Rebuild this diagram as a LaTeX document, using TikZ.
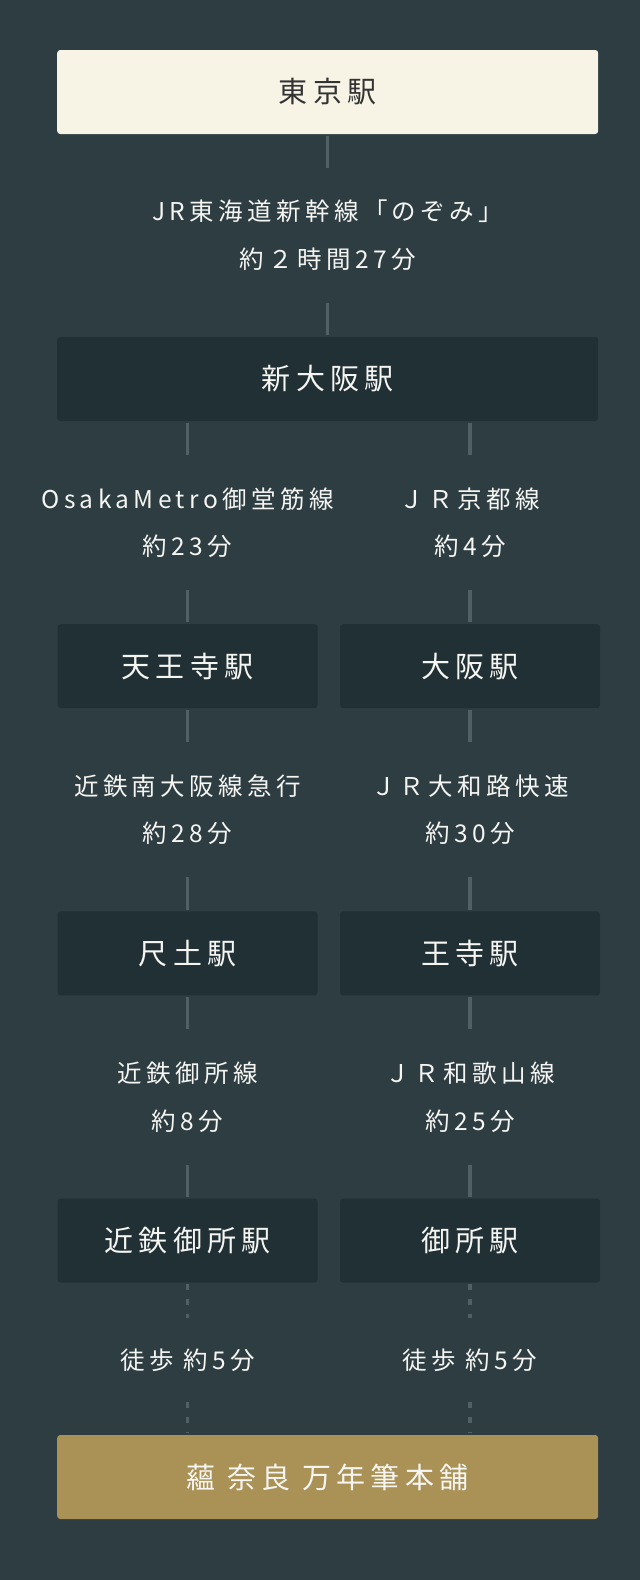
\documentclass[tikz,border=0pt]{standalone}
\usepackage{fontspec}
\setmainfont{Noto Sans CJK JP}[LetterSpace=18]
\usepackage{tikz}
\usetikzlibrary{positioning}

\definecolor{bgcol}{RGB}{45,61,66}
\definecolor{boxcol}{RGB}{33,48,53}
\definecolor{startcol}{RGB}{247,244,230}
\definecolor{goalcol}{RGB}{170,145,86}
\definecolor{linkcol}{RGB}{80,96,101}
\definecolor{textcol}{RGB}{245,245,242}

\begin{document}
\begin{tikzpicture}[x=1pt,y=-1pt,line width=3.5pt,draw=linkcol]
    \tikzstyle{station}=[rectangle,rounded corners=3pt,fill=boxcol,text=textcol,minimum height=84pt,inner sep=0pt,font=\fontsize{29}{33}\selectfont]
    \tikzstyle{wide station}=[station,minimum width=541pt]
    \tikzstyle{half station}=[station,minimum width=260pt]
    \tikzstyle{route}=[align=center,text=textcol,minimum height=132pt,inner sep=0pt,font=\fontsize{24.5}{47.5}\selectfont]
    \tikzstyle{walk}=[route,minimum height=80pt]
    \tikzstyle{walk link}=[dash pattern=on 6pt off 9pt]

    % Background
    \useasboundingbox (0,0) rectangle (640,1580);
    \fill[bgcol] (0,0) rectangle (640,1580);

    % Draw the stations on the main line
    \node[wide station, fill=startcol, text=black!80] (Tokyo) at (327.7,92) {東京駅};
    \node[wide station] (ShinOsaka) at (327.7,379) {新大阪駅};

    % Draw the stations of the left branch
    \foreach \name / \y / \label in {L1/666.2/天王寺駅, L2/953.4/尺土駅, L3/1240.6/近鉄御所駅}
        \node[half station] (\name) at (187.6,\y) {\label};

    % Draw the stations of the right branch
    \foreach \name / \y / \label in {R1/666.2/大阪駅, R2/953.4/王寺駅, R3/1240.6/御所駅}
        \node[half station] (\name) at (470,\y) {\label};

    % Draw the shop
    \node[wide station, fill=goalcol] (Shop) at (327.7,1477) {蘊 奈良 万年筆本舗};

    % Annotate the routes
    \node[route] (T0) at (327.7,235.4) {JR東海道新幹線「のぞみ」\\約２時間27分};
    \node[route] (TL1) at (187.6,522.6) {OsakaMetro御堂筋線\\約23分};
    \node[route] (TR1) at (470,522.6) {ＪＲ京都線\\約4分};
    \node[route] (TL2) at (187.6,809.6) {近鉄南大阪線急行\\約28分};
    \node[route] (TR2) at (470,809.6) {ＪＲ大和路快速\\約30分};
    \node[route] (TL3) at (187.6,1097) {近鉄御所線\\約8分};
    \node[route] (TR3) at (470,1097) {ＪＲ和歌山線\\約25分};
    \node[walk] (WL) at (187.6,1360) {徒歩 約5分};
    \node[walk] (WR) at (470,1360) {徒歩 約5分};

    % Connect the stations through the route labels
    \draw (Tokyo) -- (T0);
    \draw (T0) -- (ShinOsaka);
    \draw (ShinOsaka.south -| TL1) -- (TL1);
    \draw (ShinOsaka.south -| TR1) -- (TR1);
    \foreach \side in {L,R} {
        \draw (T\side1) -- (\side1);
        \draw (\side1) -- (T\side2);
        \draw (T\side2) -- (\side2);
        \draw (\side2) -- (T\side3);
        \draw (T\side3) -- (\side3);
    }

    % Walk to the shop
    \foreach \side in {L,R} {
        \draw[walk link] (\side3) -- (W\side);
        \draw[walk link] (W\side) -- (Shop.north -| W\side);
    }
\end{tikzpicture}
\end{document}
